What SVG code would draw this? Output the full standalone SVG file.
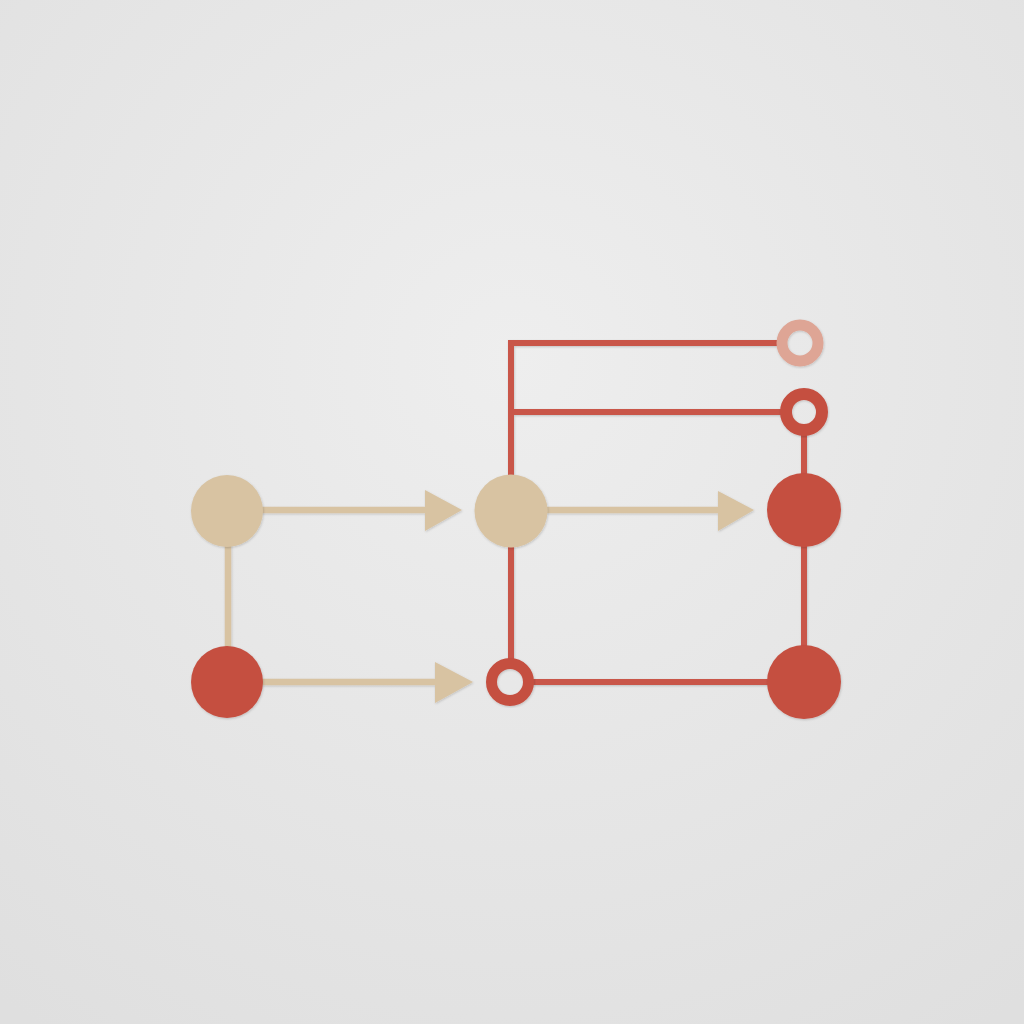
<svg xmlns="http://www.w3.org/2000/svg" width="1024" height="1024" viewBox="0 0 1024 1024">
  <defs>
    <radialGradient id="bg" cx="50%" cy="35%" r="80%">
      <stop offset="0" stop-color="#eeeeee"/>
      <stop offset="1" stop-color="#dfdfdf"/>
    </radialGradient>
    <filter id="sh" x="-20%" y="-20%" width="140%" height="140%">
      <feDropShadow dx="0.6" dy="1" stdDeviation="0.8" flood-color="#000" flood-opacity="0.18"/>
    </filter>
    <style>
      .tan { fill: #d8c3a2; }
      .red { fill: #c54f41; }
      .tl { stroke: #d8c3a2; stroke-width: 6.5; fill: none; }
      .rl { stroke: #c9574a; stroke-width: 6; fill: none; }
      .ring { fill: none; }
    </style>
  </defs>
  <rect width="1024" height="1024" fill="url(#bg)"/>

  <g id="connectors" filter="url(#sh)">
    <line class="tl" x1="228" y1="540" x2="228" y2="650"/>
    <line class="tl" x1="260" y1="510" x2="428" y2="510"/>
    <polygon class="tan" points="425,490 462,510 425,531"/>
    <line class="tl" x1="260" y1="682" x2="438" y2="682"/>
    <polygon class="tan" points="435,662 473,682 435,703"/>
    <line class="tl" x1="544" y1="510" x2="721" y2="510"/>
    <polygon class="tan" points="718,491 754,510 718,531"/>
    <polyline class="rl" points="777,343 511,343 511,476"/>
    <line class="rl" x1="511" y1="412" x2="782" y2="412"/>
    <line class="rl" x1="511" y1="545" x2="511" y2="660"/>
    <line class="rl" x1="532" y1="682" x2="770" y2="682"/>
    <line class="rl" x1="804" y1="434" x2="804" y2="476"/>
    <line class="rl" x1="804" y1="545" x2="804" y2="648"/>
  </g>

  <g id="nodeA" filter="url(#sh)"><circle class="tan" cx="227" cy="511" r="36"/></g>
  <g id="nodeB" filter="url(#sh)"><circle class="red" cx="227" cy="682" r="36"/></g>
  <g id="nodeC" filter="url(#sh)"><circle class="tan" cx="511" cy="511" r="36.5"/></g>
  <g id="nodeD" filter="url(#sh)"><circle class="red" cx="804" cy="510" r="37"/></g>
  <g id="nodeH" filter="url(#sh)"><circle class="red" cx="804" cy="682" r="37"/></g>
  <g id="ringE" filter="url(#sh)"><circle class="ring" cx="510" cy="682" r="18.5" stroke="#c54f41" stroke-width="11"/></g>
  <g id="ringF" filter="url(#sh)"><circle class="ring" cx="800" cy="343" r="18" stroke="#dea595" stroke-width="11"/></g>
  <g id="ringG" filter="url(#sh)"><circle class="ring" cx="804" cy="412" r="18" stroke="#c54f41" stroke-width="12"/></g>
</svg>
